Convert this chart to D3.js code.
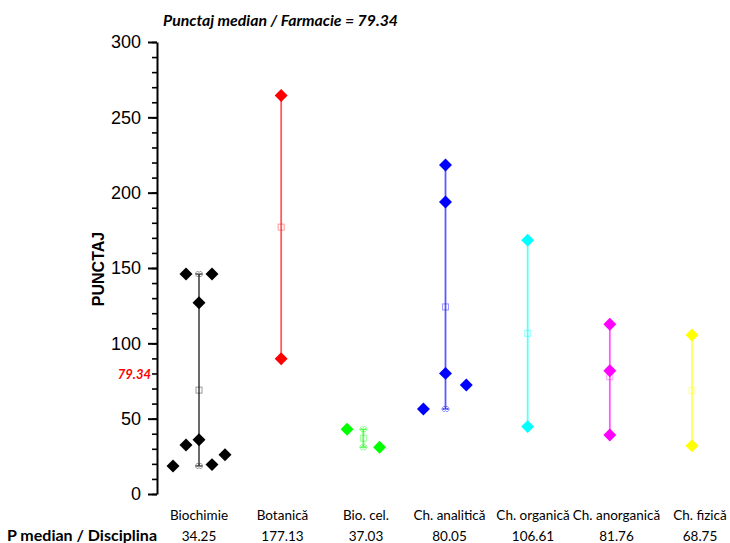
<!DOCTYPE html>
<html>
<head>
<meta charset="utf-8">
<script src="https://cdn.jsdelivr.net/npm/d3@7"></script>
<style>
  html, body { margin: 0; padding: 0; background: #fff; }
  svg { display: block; }
</style>
</head>
<body>
<svg id="chart" width="730" height="543"></svg>
<script>
// ---------------- data ----------------
const categories = ["Biochimie", "Botanică", "Bio. cel.", "Ch. analitică", "Ch. organică", "Ch. anorganică", "Ch. fizică"];
const seriesColors = ["#000000", "#ff0000", "#00ff00", "#0000ff", "#00ffff", "#ff00ff", "#ffff00"];
const medianLabels = ["34.25", "177.13", "37.03", "80.05", "106.61", "81.76", "68.75"];

const biochimieValues = [146, 146, 127, 36, 32.5, 18.6, 19.5, 26];
const biochimieSlots  = [-1, 1, 0, 0, -1, -2, 1, 2];
const botanicaValues = [264.5, 89.76];
const botanicaSlots  = [0, 0];
const bioCelValues = [43, 31.06];
const bioCelSlots  = [-1.25, 1.25];
const analiticaValues = [218.3, 193.8, 80.05, 72.3, 56.4];
const analiticaSlots  = [0, 0, 0, 1.6, -1.7];
const organicaValues = [168.5, 44.72];
const organicaSlots  = [0, 0];
const anorganicaValues = [112.6, 81.76, 39.2];
const anorganicaSlots  = [0, 0, 0];
const fizicaValues = [105.5, 32];
const fizicaSlots  = [0, 0];

const groupValues = [biochimieValues, botanicaValues, bioCelValues, analiticaValues, organicaValues, anorganicaValues, fizicaValues];
const groupSlots = [biochimieSlots, botanicaSlots, bioCelSlots, analiticaSlots, organicaSlots, anorganicaSlots, fizicaSlots];

const yMajorTicks = [0, 50, 100, 150, 200, 250, 300];
const yMinorTicks = d3.range(0, 301, 10);
const overallMedian = 79.34;
const titleText = "Punctaj median / Farmacie = 79.34";
const yAxisTitle = "PUNCTAJ";
const tableRowTitle = "P median / Disciplina";

// ---------------- layout ----------------
const svg = d3.select("#chart");
const axisX = 157;
const y = d3.scaleLinear().domain([0, 300]).range([494, 42]);
const x = d3.scalePoint().domain(categories).range([199, 692]);
const xTable = d3.scalePoint().domain(categories).range([199, 700]);
const slotUnit = 13;

// title
svg.append("text")
  .attr("x", 163).attr("y", 26)
  .attr("font-family", "Lato, 'Open Sans', sans-serif")
  .attr("font-weight", "bold").attr("font-style", "italic")
  .attr("font-size", 15.8)
  .attr("fill", "#000")
  .text(titleText);

// y axis: minor ticks
svg.append("g")
  .attr("transform", `translate(${axisX},0)`)
  .call(d3.axisLeft(y).tickValues(yMinorTicks).tickSize(5).tickSizeOuter(0).tickFormat(""))
  .call(g => g.select(".domain").remove())
  .call(g => g.selectAll("line").attr("stroke", "#000").attr("stroke-width", 1.6));

// y axis: major ticks + labels
const yAxisG = svg.append("g")
  .attr("transform", `translate(${axisX},0)`)
  .call(d3.axisLeft(y).tickValues(yMajorTicks).tickSize(9).tickSizeOuter(0).tickPadding(7));
yAxisG.select(".domain").attr("stroke", "#000").attr("stroke-width", 2);
yAxisG.selectAll("line").attr("stroke", "#000").attr("stroke-width", 2);
yAxisG.selectAll("text")
  .attr("font-family", "'Liberation Sans', Arial, sans-serif")
  .attr("font-size", 18)
  .attr("fill", "#000");

// red overall-median label
svg.append("text")
  .attr("x", 151).attr("y", y(overallMedian))
  .attr("dy", "0.35em")
  .attr("text-anchor", "end")
  .attr("font-family", "Lato, 'Open Sans', sans-serif")
  .attr("font-weight", "bold").attr("font-style", "italic")
  .attr("font-size", 13)
  .attr("fill", "#ff0000")
  .text(overallMedian.toFixed(2));

// y axis title
svg.append("text")
  .attr("transform", `translate(103.5,${(y(0) + y(300)) / 2 + 1}) rotate(-90)`)
  .attr("text-anchor", "middle")
  .attr("font-family", "'Liberation Sans', Arial, sans-serif")
  .attr("font-weight", "bold")
  .attr("font-size", 16)
  .attr("fill", "#000")
  .text(yAxisTitle);

// groups
const diamond = d3.symbol().type(d3.symbolSquare).size(84);
const star = d3.symbol().type(d3.symbolCross).size(22);

categories.forEach((cat, i) => {
  const vals = groupValues[i];
  const slots = groupSlots[i];
  const col = seriesColors[i];
  const cx = x(cat);
  const lo = d3.min(vals), hi = d3.max(vals), mean = d3.mean(vals);
  const g = svg.append("g");

  // range line
  g.append("line")
    .attr("x1", cx).attr("x2", cx)
    .attr("y1", y(lo)).attr("y2", y(hi))
    .attr("stroke", col).attr("stroke-opacity", 0.65).attr("stroke-width", 1.8);

  // caps
  [lo, hi].forEach(v => {
    g.append("line")
      .attr("x1", cx - 4).attr("x2", cx + 4)
      .attr("y1", y(v)).attr("y2", y(v))
      .attr("stroke", col).attr("stroke-opacity", 0.6).attr("stroke-width", 1.4);
    g.append("path")
      .attr("d", star())
      .attr("transform", `translate(${cx},${y(v)}) rotate(45)`)
      .attr("fill", "none")
      .attr("stroke", col).attr("stroke-opacity", 0.45).attr("stroke-width", 0.9);
  });

  // mean square
  g.append("rect")
    .attr("x", cx - 3).attr("y", y(mean) - 3)
    .attr("width", 6).attr("height", 6)
    .attr("fill", "none")
    .attr("stroke", col).attr("stroke-opacity", 0.4).attr("stroke-width", 1);

  // points
  g.selectAll("path.pt")
    .data(vals.map((v, k) => ({ v, s: slots[k] })))
    .join("path")
    .attr("class", "pt")
    .attr("d", diamond())
    .attr("transform", d => `translate(${cx + d.s * slotUnit},${y(d.v)}) rotate(45)`)
    .attr("fill", col);
});

// bottom table
const tableFont = "Lato, 'Open Sans', sans-serif";
svg.append("g").selectAll("text")
  .data(categories)
  .join("text")
  .attr("x", d => xTable(d))
  .attr("y", 520)
  .attr("text-anchor", "middle")
  .attr("font-family", tableFont)
  .attr("font-size", 13.5)
  .attr("fill", "#000")
  .text(d => d);

svg.append("g").selectAll("text")
  .data(medianLabels)
  .join("text")
  .attr("x", (d, i) => xTable(categories[i]))
  .attr("y", 541)
  .attr("text-anchor", "middle")
  .attr("font-family", tableFont)
  .attr("font-size", 13.5)
  .attr("fill", "#000")
  .text(d => d);

svg.append("text")
  .attr("x", 157).attr("y", 541)
  .attr("text-anchor", "end")
  .attr("font-family", tableFont)
  .attr("font-weight", "bold")
  .attr("font-size", 16)
  .attr("fill", "#000")
  .text(tableRowTitle);
</script>
</body>
</html>
